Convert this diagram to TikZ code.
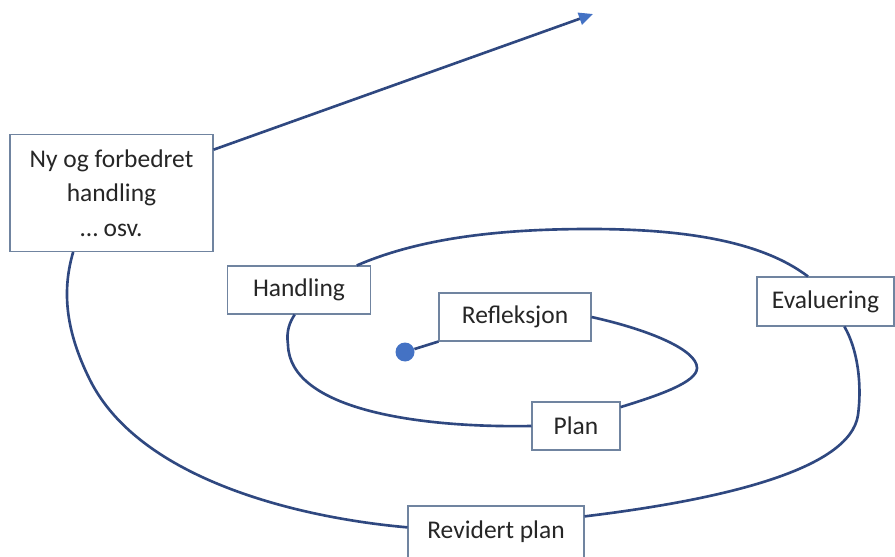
\documentclass[tikz,border=0pt]{standalone}
\usepackage{fontspec}
\setmainfont{Carlito}
\usepackage{tikz}
\definecolor{spiralnavy}{RGB}{47,72,128}
\definecolor{dotblue}{RGB}{68,114,196}
\definecolor{boxgrey}{RGB}{112,132,160}
\definecolor{textgrey}{RGB}{38,38,38}
\usetikzlibrary{arrows.meta,positioning,calc}

\begin{document}
\begin{tikzpicture}[x=0.02cm, y=-0.02cm,
    stage/.style={rectangle, draw=boxgrey, line width=0.6pt, fill=white, inner sep=0pt, text=textgrey, font=\fontsize{14.5}{19.5}\selectfont, align=center},
    spiral/.style={draw=spiralnavy, line width=1.5pt}
]
\useasboundingbox (0,0) rectangle (895,557);

% Stages
\node[stage, minimum width=4.06cm, minimum height=2.34cm] (ny) at (111.5,193) {Ny og forbedret\\handling\\… osv.};
\node[stage, minimum width=2.86cm, minimum height=0.96cm] (hand) at (299,290) {Handling};
\node[stage, minimum width=3.04cm, minimum height=0.96cm] (refl) at (515,317) {Refleksjon};
\node[stage, minimum width=1.76cm, minimum height=0.96cm] (plan) at (576,426) {Plan};
\node[stage, minimum width=2.74cm, minimum height=0.98cm] (eval) at (825.5,301.5) {Evaluering};
\node[stage, minimum width=3.52cm, minimum height=1.04cm] (rev) at (496,532) {Revidert plan};
\node[circle, fill=dotblue, inner sep=0pt, minimum size=0.38cm] (dot) at (405,352) {};
\coordinate (tip) at (593,14);

% Spiral
\draw[spiral] (dot) -- (refl.south west);
\draw[spiral] (refl.east) .. controls (650,330) and (697,350) .. (697,368)
    .. controls (697,382) and (660,395) .. (plan.23);
\draw[spiral] (plan.west) .. controls (420,428) and (290,410) .. (288,345)
    .. controls (286,330) and (290,322) .. (hand.260);
\draw[spiral] (hand.23) .. controls (420,238) and (500,229) .. (590,229)
    .. controls (680,229) and (760,240) .. (eval.125);
\draw[spiral] (eval.-53) .. controls (858,350) and (862,385) .. (858,415)
    .. controls (850,470) and (720,500) .. (rev.10);
\draw[spiral] (rev.177) .. controls (300,518) and (140,480) .. (90,380)
    .. controls (65,330) and (62,290) .. (ny.237);
\draw[spiral, -{Triangle[length=8pt, width=7pt, color=dotblue]}] (ny.23) -- (tip);

\end{tikzpicture}
\end{document}
